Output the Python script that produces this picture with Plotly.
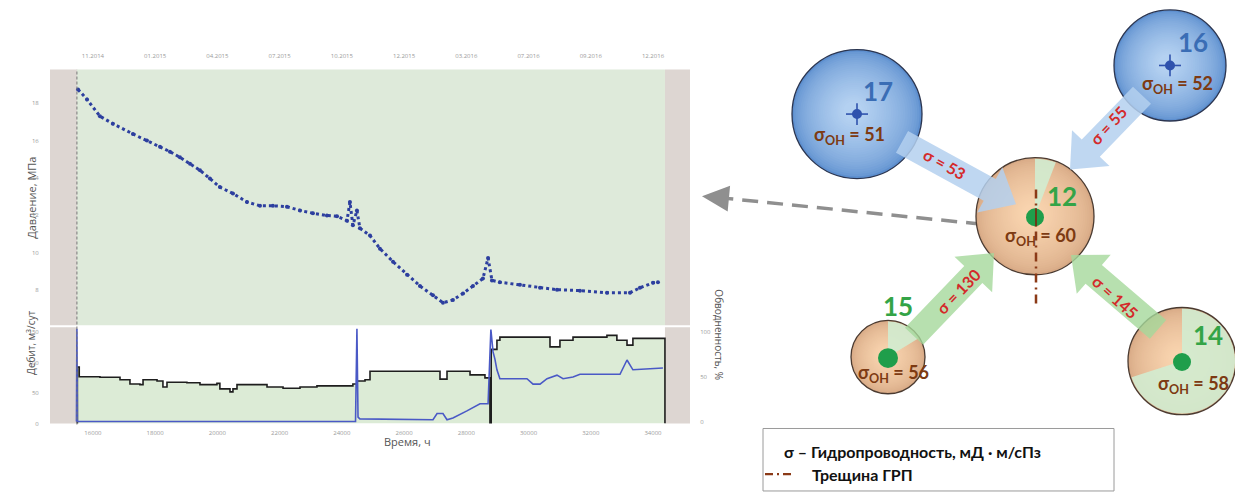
import math
import plotly.graph_objects as go

# ---------------- pressure history (hours, MPa) ----------------
p_hours = [15520, 15810, 16225, 16640, 17285, 17735, 18155, 18475, 18795, 19120,
           19440, 19760, 20080, 20500, 20950, 21370, 21785, 22235, 22655, 23070,
           23520, 23845, 24165, 24260, 24355, 24485, 24580, 24905, 25225, 25645,
           26095, 26510, 26930, 27250, 27570, 27895, 28215, 28535, 28700, 28825,
           29080, 29725, 30370, 30915, 31655, 32520, 33260, 33580, 34000, 34160]
p_mpa = [18.74, 18.2, 17.3, 16.9, 16.35, 16.0, 15.66, 15.4, 15.1, 14.75,
         14.4, 13.96, 13.5, 13.16, 12.7, 12.5, 12.5, 12.45, 12.25, 12.1,
         11.98, 11.94, 11.7, 12.7, 11.45, 12.25, 11.3, 10.9, 10.2, 9.5,
         8.8, 8.2, 7.7, 7.3, 7.45, 7.8, 8.2, 8.6, 9.7, 8.5,
         8.4, 8.27, 8.1, 8.0, 7.95, 7.84, 7.84, 8.1, 8.37, 8.4]

# ---------------- liquid rate (hours, m3/day) ----------------
q_hours = [15485, 15500, 15560, 16225, 16870, 17190, 17510, 17610, 18060, 18250,
           18380, 19020, 19440, 19985, 20080, 20405, 20500, 20630, 21145, 21595,
           22110, 22655, 23200, 23715, 24165, 24355, 24485, 24745, 24905, 27060,
           27155, 27380, 27475, 28120, 28600, 28760, 28800, 28860, 28985, 29080,
           30595, 30690, 31010, 31430, 32390, 32520, 32840, 33165, 33355, 34320, 34385]
q_rate = [0, 93, 77, 76, 72, 65, 64, 72, 70, 60,
          68, 67, 64, 66, 57, 52, 57, 64, 64, 60,
          58, 60, 62, 62, 62, 65, 70, 72, 86, 86,
          73, 86, 86, 80, 75, 0, 122, 122, 137, 142,
          142, 126, 137, 142, 142, 145, 137, 129, 140, 140, 0]

# ---------------- water cut (hours, %) ----------------
w_hours = [15470, 15485, 15500, 20000, 24440, 24485, 24520, 24580, 26930, 27060,
           27250, 27380, 27570, 28020, 28440, 28700, 28790, 28860, 28920, 28985,
           29080, 29950, 30145, 30370, 30595, 30915, 31110, 31430, 31655, 32940,
           33165, 33355, 34320]
w_cut = [0, 104, 0, 0, 0, 104, 5, 3, 2, 9,
         9, 2, 4, 12, 20, 20, 103, 78, 70, 58,
         48, 48, 42, 42, 48, 52, 48, 50, 53, 53,
         69, 58, 60]

# ---------------- axis ticks ----------------
hour_ticks = [16000, 18000, 20000, 22000, 24000, 26000, 28000, 30000, 32000, 34000]
date_labels = ["11.2014", "01.2015", "04.2015", "07.2015", "10.2015",
               "12.2015", "03.2016", "07.2016", "09.2016", "12.2016"]
p_ticks = [8, 10, 12, 14, 16, 18]
q_ticks = [0, 50, 100, 150]
w_ticks = [0, 50, 100]

# ---------------- interference scheme ----------------
well_ids = ["17", "16", "12", "15", "14"]
sigma_oh = [51, 52, 60, 56, 58]
flow_from = ["17", "16", "15", "14"]
sigma_flow = [53, 55, 130, 145]
legend_lines = ["σ – Гидропроводность, мД · м/сПз", "Трещина ГРП"]

W, H = 1235, 492
t_start, t_end = 15485, 34385
x_min, x_max = 14620, 35190


def px(x):
    return x / W


def py(y):
    return 1 - y / H


def path_from(points):
    return "M " + " L ".join(f"{px(x):.5f},{py(y):.5f}" for x, y in points) + " Z"


def lerp_col(c1, c2, t):
    a = [int(c1[i:i + 2], 16) for i in (1, 3, 5)]
    b = [int(c2[i:i + 2], 16) for i in (1, 3, 5)]
    return "#" + "".join(f"{int(round(a[k] + (b[k] - a[k]) * t)):02x}" for k in range(3))


shapes = []
annotations = []

# panel backgrounds
shapes.append(dict(type="rect", xref="x", yref="y domain", x0=t_start, x1=t_end, y0=0, y1=1,
                   fillcolor="#deeada", line_width=0, layer="below"))
for xr, ya in (("x", "y domain"), ("x2", "y2 domain")):
    shapes.append(dict(type="rect", xref=xr, yref=ya, x0=x_min, x1=t_start, y0=0, y1=1,
                       fillcolor="#ddd6d2", line_width=0, layer="below"))
    shapes.append(dict(type="rect", xref=xr, yref=ya, x0=t_end, x1=x_max, y0=0, y1=1,
                       fillcolor="#ddd6d2", line_width=0, layer="below"))
shapes.append(dict(type="line", xref="x", yref="paper", x0=t_start, x1=t_start,
                   y0=py(428), y1=py(70), line=dict(color="#777777", width=1, dash="3px,2px")))


# ---------- scheme drawing helpers ----------
def sphere(cx, cy, r, outer, inner):
    n = 26
    for i in range(n):
        t = i / (n - 1)
        rr = r * (1 - 0.85 * t)
        ox, oy = -0.06 * r * t, -0.05 * r * t
        tc = min(1.0, t ** 0.6)
        shapes.append(dict(type="circle", xref="paper", yref="paper",
                           x0=px(cx + ox - rr), x1=px(cx + ox + rr),
                           y0=py(cy + oy + rr), y1=py(cy + oy - rr),
                           fillcolor=lerp_col(outer, inner, tc), line_width=0))


def outline(cx, cy, r, edge):
    shapes.append(dict(type="circle", xref="paper", yref="paper",
                       x0=px(cx - r), x1=px(cx + r), y0=py(cy + r), y1=py(cy - r),
                       line=dict(color=edge, width=1.3)))


def sector(cx, cy, r, a0, a1, color):
    pts = [(cx, cy)]
    steps = max(6, int(abs(a1 - a0) / 4))
    for k in range(steps + 1):
        a = math.radians(a0 + (a1 - a0) * k / steps)
        pts.append((cx + r * math.sin(a), cy - r * math.cos(a)))
    shapes.append(dict(type="path", xref="paper", yref="paper", path=path_from(pts),
                       fillcolor=color, line_width=0))


def dot(cx, cy, r, color):
    shapes.append(dict(type="circle", xref="paper", yref="paper",
                       x0=px(cx - r), x1=px(cx + r), y0=py(cy + r), y1=py(cy - r),
                       fillcolor=color, line_width=0))


def cross(cx, cy):
    c = "#2f52ad"
    shapes.append(dict(type="line", xref="paper", yref="paper", x0=px(cx - 11), x1=px(cx + 11),
                       y0=py(cy), y1=py(cy), line=dict(color=c, width=1.6)))
    shapes.append(dict(type="line", xref="paper", yref="paper", x0=px(cx), x1=px(cx),
                       y0=py(cy - 11), y1=py(cy + 11), line=dict(color=c, width=1.6)))
    dot(cx, cy, 5, c)


def arrow(tail, tip, sw, hw, hl, color):
    dx, dy = tip[0] - tail[0], tip[1] - tail[1]
    L = math.hypot(dx, dy)
    ux, uy = dx / L, dy / L
    nx, ny = -uy, ux
    bx, by = tip[0] - hl * ux, tip[1] - hl * uy
    pts = [(tail[0] + sw / 2 * nx, tail[1] + sw / 2 * ny),
           (bx + sw / 2 * nx, by + sw / 2 * ny),
           (bx + hw / 2 * nx, by + hw / 2 * ny),
           tip,
           (bx - hw / 2 * nx, by - hw / 2 * ny),
           (bx - sw / 2 * nx, by - sw / 2 * ny),
           (tail[0] - sw / 2 * nx, tail[1] - sw / 2 * ny)]
    shapes.append(dict(type="path", xref="paper", yref="paper", path=path_from(pts),
                       fillcolor=color, line_width=0))


def label(x, y, text, size, color, angle=0, xanchor="center", bold=True, family="Lato"):
    annotations.append(dict(xref="paper", yref="paper", x=px(x), y=py(y),
                            text=f"<b>{text}</b>" if bold else text,
                            showarrow=False, textangle=angle, xanchor=xanchor, yanchor="middle",
                            font=dict(family=family, size=size, color=color)))


# gray dashed link from the scheme to the chart
shapes.append(dict(type="line", xref="paper", yref="paper", x0=px(982), y0=py(226), x1=px(726), y1=py(200),
                   line=dict(color="#8f8f8f", width=3.5, dash="16px,9px")))
arrow((732, 200.6), (702, 197.8), 0, 26, 27, "#8f8f8f")

# well geometry
wells = {
    "17": dict(c=(857, 115), r=65, kind="inj"),
    "16": dict(c=(1170, 66), r=56, kind="inj"),
    "12": dict(c=(1035, 218), r=59, kind="prod", sec=(0, 21)),
    "15": dict(c=(888, 360), r=37, kind="prod", sec=(0, 58)),
    "14": dict(c=(1182, 364), r=54, kind="prod", sec=(0, 252)),
}
num_pos = {"17": (878, 92), "16": (1193, 42), "12": (1062, 198), "15": (898, 309), "14": (1208, 338)}
soh_pos = {"17": (849, 137), "16": (1177, 85), "12": (1040, 238), "15": (893, 377), "14": (1193, 388)}

for wid in well_ids:
    w = wells[wid]
    cx, cy = w["c"]
    r = w["r"]
    if w["kind"] == "inj":
        sphere(cx, cy, r, "#5d8fcf", "#b4d1f1")
        outline(cx, cy, r, "#2b3550")
    else:
        sphere(cx, cy, r, "#d7a985", "#f8d3ae")
        a0, a1 = w["sec"]
        sector(cx, cy, r - 1, a0, a1, "rgba(210,236,208,0.9)")
        outline(cx, cy, r, "#4a3a30")

# flow arrows into well 12
arrow_geom = {
    "17": dict(tail=(902, 143), tip=(1016, 206), col="rgba(180,208,238,0.85)"),
    "16": dict(tail=(1142, 96), tip=(1070, 171), col="rgba(180,208,238,0.85)"),
    "15": dict(tail=(914, 339), tip=(994, 255), col="rgba(165,216,155,0.8)"),
    "14": dict(tail=(1158, 332), tip=(1071, 257), col="rgba(165,216,155,0.8)"),
}
flow_text = {"17": ((944, 165), 29), "16": ((1108, 127), -47), "15": ((958, 294), -46), "14": ((1115, 299), 42)}
for src in flow_from:
    g = arrow_geom[src]
    arrow(g["tail"], g["tip"], 25, 52, 30, g["col"])

# fracture of well 12 and well markers
c12 = wells["12"]["c"]
shapes.append(dict(type="line", xref="paper", yref="paper", x0=px(c12[0] + 1), x1=px(c12[0] + 1),
                   y0=py(306), y1=py(188), line=dict(color="#8b3a17", width=2.5, dash="9px,5px,2px,5px")))
for wid in well_ids:
    cx, cy = wells[wid]["c"]
    if wells[wid]["kind"] == "inj":
        cross(cx, cy)
    else:
        dot(cx, cy + 1, 10 if wid == "15" else 9, "#1f9e4b")
shapes.append(dict(type="line", xref="paper", yref="paper", x0=px(c12[0] + 1), x1=px(c12[0] + 1),
                   y0=py(228), y1=py(210), line=dict(color="#6b3a17", width=2)))

for wid, val in zip(well_ids, sigma_oh):
    kind = wells[wid]["kind"]
    nx_, ny_ = num_pos[wid]
    label(nx_, ny_, wid, 26, "#3a6db5" if kind == "inj" else "#33a447")
    sx, sy = soh_pos[wid]
    label(sx, sy, f"σ<sub>ОН</sub> = {val}", 18, "#7d3a12")

for src, sig in zip(flow_from, sigma_flow):
    (tx, ty), ang = flow_text[src]
    label(tx, ty, f"σ = {sig}", 16, "#d42a2a", angle=ang)

# legend box of the scheme
shapes.append(dict(type="rect", xref="paper", yref="paper", x0=px(763), x1=px(1114), y0=py(495), y1=py(432),
                   line=dict(color="#9a9a9a", width=1), fillcolor="white"))
shapes.append(dict(type="line", xref="paper", yref="paper", x0=px(765), x1=px(794), y0=py(478), y1=py(478),
                   line=dict(color="#8b3a17", width=2.2, dash="8px,4px,2px,4px")))
label(782, 455, legend_lines[0], 16, "#111111", xanchor="left")
label(810, 478, legend_lines[1], 16, "#111111", xanchor="left")

# chart axis titles
annotations += [
    dict(xref="paper", yref="paper", x=px(22), y=py(200), text="Давление, МПа", textangle=-90, showarrow=False,
         font=dict(family="Open Sans", size=11, color="#555555")),
    dict(xref="paper", yref="paper", x=px(22), y=py(380), text="Дебит, м<sup>3</sup>/сут", textangle=-90,
         showarrow=False, font=dict(family="Open Sans", size=10, color="#555555")),
    dict(xref="paper", yref="paper", x=px(719), y=py(385), text="Обводненность, %", textangle=90,
         showarrow=False, font=dict(family="Open Sans", size=10, color="#555555")),
    dict(xref="paper", yref="paper", x=px(382), y=py(455), text="Время, ч", showarrow=False,
         font=dict(family="Open Sans", size=11, color="#555555")),
]

fig = go.Figure()
fig.add_trace(go.Scatter(x=p_hours, y=p_mpa, xaxis="x", yaxis="y", mode="lines+markers",
                         line=dict(color="#2d3f9f", width=3, dash="3px,3px"),
                         marker=dict(size=4, color="#2d3f9f"), showlegend=False))
fig.add_trace(go.Scatter(x=q_hours, y=q_rate, xaxis="x2", yaxis="y2", mode="lines",
                         line=dict(color="#1e1e1e", width=1.6, shape="hv"),
                         fill="tozeroy", fillcolor="#dcebd6", showlegend=False))
fig.add_trace(go.Scatter(x=w_hours, y=w_cut, xaxis="x2", yaxis="y3", mode="lines",
                         line=dict(color="#4a59c6", width=1.6), showlegend=False))

tickfont = dict(family="Open Sans", size=6, color="#9a9a9a")
fig.update_layout(
    width=W, height=H, margin=dict(l=0, r=0, t=0, b=0),
    paper_bgcolor="white", plot_bgcolor="white",
    xaxis=dict(domain=[px(50), px(690)], anchor="y", range=[x_min, x_max], side="top",
               tickvals=hour_ticks, ticktext=date_labels, tickfont=tickfont,
               ticks="outside", ticklen=8, tickcolor="rgba(0,0,0,0)",
               showgrid=False, zeroline=False, showline=False),
    yaxis=dict(domain=[py(328), py(70)], anchor="x", range=[6.09, 19.81], tickvals=p_ticks,
               tickfont=tickfont, ticks="outside", ticklen=9, tickcolor="rgba(0,0,0,0)",
               showgrid=False, zeroline=False),
    xaxis2=dict(domain=[px(50), px(690)], anchor="y2", range=[x_min, x_max],
                tickvals=hour_ticks, ticktext=[str(v) for v in hour_ticks], tickfont=tickfont,
                ticks="outside", ticklen=3, tickcolor="rgba(0,0,0,0)",
                showgrid=False, zeroline=False),
    yaxis2=dict(domain=[py(427), py(330)], anchor="x2", range=[0, 158.2], tickvals=q_ticks,
                tickfont=tickfont, ticks="outside", ticklen=9, tickcolor="rgba(0,0,0,0)",
                showgrid=False, zeroline=False),
    yaxis3=dict(overlaying="y2", side="right", anchor="x2", range=[-2.2, 105.6], tickvals=w_ticks,
                tickfont=tickfont, ticks="outside", ticklen=8, tickcolor="rgba(0,0,0,0)",
                showgrid=False, zeroline=False),
    shapes=shapes, annotations=annotations,
)
fig.write_html("out.html")
